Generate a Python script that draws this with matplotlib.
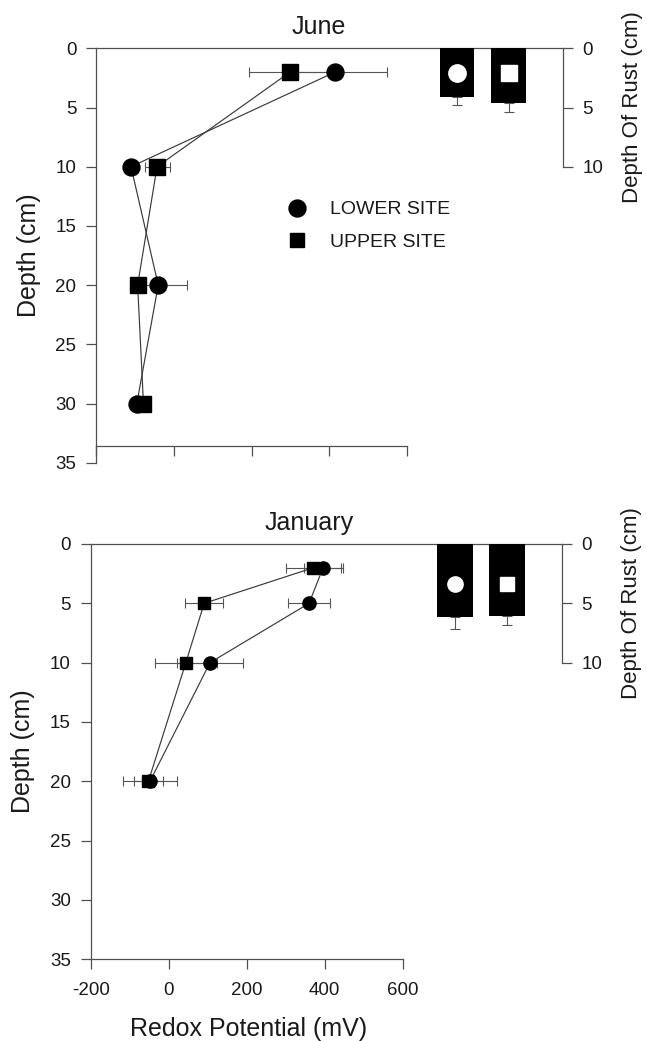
import matplotlib
matplotlib.use('Agg')
import matplotlib.pyplot as plt
from matplotlib.lines import Line2D

plt.rcParams['font.family'] = ['Liberation Sans', 'DejaVu Sans']
plt.rcParams['axes.unicode_minus'] = False

# ---------------- data ----------------
june_depth = [2, 10, 20, 30]
june_lower_mv = [415, -110, -40, -95]
june_lower_err = [134, 15, 73, 10]
june_upper_mv = [299, -43, -93, -78]
june_upper_err = [105, 32, 15, 10]

jan_depth = [2, 5, 10, 20]
jan_lower_mv = [396, 360, 106, -48]
jan_lower_err = [50, 54, 85, 70]
jan_upper_mv = [371, 91, 44, -52]
jan_upper_err = [70, 49, 79, 37]

site_labels = ['LOWER SITE', 'UPPER SITE']
june_rust = [4.14, 4.64]
june_rust_err = [0.67, 0.71]
jan_rust = [6.18, 6.07]
jan_rust_err = [1.01, 0.76]
june_rust_marker_depth = 2.1
jan_rust_marker_depth = 3.35

x_ticks = [-200, 0, 200, 400, 600]
x_tick_labels = ['-200', '0', '200', '400', '600']
depth_ticks = [0, 5, 10, 15, 20, 25, 30, 35]
rust_ticks = [0, 5, 10]

# ---------------- style ----------------
W, H = 647, 1041
SPINE = '#505050'
LINE = '#3a3a3a'
ERR = '#555555'
TICKLEN = 7.2

fig = plt.figure(figsize=(W / 100, H / 100), dpi=100)


def rect(left_px, right_px, top_px, bottom_px):
    return [left_px / W, 1 - bottom_px / H, (right_px - left_px) / W, (bottom_px - top_px) / H]


def panel(r, title, title_x, depth, low, low_err, up, up_err, rust, rust_err,
          rust_mdepth, xmax, xaxis_depth, show_xlabels, ms_data, ms_in, legend):
    ax = fig.add_axes(r)
    ax.set_xlim(-200, xmax)
    ax.set_ylim(35, 0)
    ax.patch.set_visible(False)
    ax.spines['right'].set_visible(False)
    for s in ['left', 'top', 'bottom']:
        ax.spines[s].set_color(SPINE)
        ax.spines[s].set_linewidth(0.9)
    ax.spines['bottom'].set_position(('data', xaxis_depth))
    ax.spines['bottom'].set_bounds(-200, 600)
    ax.set_xticks(x_ticks)
    if show_xlabels:
        ax.set_xticklabels(x_tick_labels)
    else:
        ax.set_xticklabels([])
    ax.set_yticks(depth_ticks)
    ax.set_yticklabels([str(t) for t in depth_ticks])
    ax.tick_params(axis='both', direction='out', length=TICKLEN, width=0.9,
                   color=SPINE, labelsize=13.5, labelcolor='#1a1a1a')
    ax.tick_params(axis='y', pad=7)
    ax.tick_params(axis='x', pad=9)

    # upper site (squares) then lower site (circles)
    ax.errorbar(up, depth, xerr=up_err, fmt='none', ecolor=ERR, elinewidth=0.8,
                capsize=3.6, capthick=0.8, zorder=2)
    ax.errorbar(low, depth, xerr=low_err, fmt='none', ecolor=ERR, elinewidth=0.8,
                capsize=3.6, capthick=0.8, zorder=2)
    ax.plot(up, depth, '-', color=LINE, lw=0.85, marker='s', ms=ms_data * 0.92,
            mfc='black', mec='black', zorder=3)
    ax.plot(low, depth, '-', color=LINE, lw=0.85, marker='o', ms=ms_data,
            mfc='black', mec='black', zorder=4)

    ax.set_title(title, fontsize=18, x=title_x, pad=10, color='#1a1a1a')
    ax.set_ylabel('Depth (cm)', fontsize=18, color='#1a1a1a')
    ax.yaxis.set_label_coords(-0.118, 0.5)
    if show_xlabels:
        ax.set_xlabel('Redox Potential (mV)', fontsize=18, color='#1a1a1a')
        ax.xaxis.set_label_coords(0.335, -0.138)

    if legend:
        handles = [Line2D([], [], ls='none', marker='o', ms=ms_data, mfc='black', mec='black'),
                   Line2D([], [], ls='none', marker='s', ms=ms_data * 0.88, mfc='black', mec='black')]
        ax.legend(handles, site_labels, loc='upper left', bbox_to_anchor=(0.41, 0.632),
                  frameon=False, fontsize=14, handlelength=1.0, handletextpad=1.2,
                  labelspacing=0.75, borderpad=0, borderaxespad=0, labelcolor='#1a1a1a')

    # rust depth bars on the right axis
    rax = fig.add_axes(r)
    rax.set_xlim(-7.0, 2.05)
    rax.set_ylim(35, 0)
    rax.patch.set_visible(False)
    for s in ['left', 'top', 'bottom']:
        rax.spines[s].set_visible(False)
    rax.spines['right'].set_color(SPINE)
    rax.spines['right'].set_linewidth(0.9)
    rax.spines['right'].set_bounds(0, 10)
    rax.yaxis.tick_right()
    rax.yaxis.set_label_position('right')
    rax.set_yticks(rust_ticks)
    rax.set_yticklabels([str(t) for t in rust_ticks])
    rax.set_xticks([])
    rax.tick_params(axis='y', direction='out', length=TICKLEN, width=0.9, color=SPINE,
                    labelsize=13.5, pad=7, labelcolor='#1a1a1a')
    xs = list(range(len(rust)))
    rax.errorbar(xs, rust, yerr=[[0] * len(rust), rust_err], fmt='none', ecolor=ERR,
                 elinewidth=0.8, capsize=3.6, capthick=0.8, zorder=1)
    rax.bar(xs, rust, width=0.675, color='black', zorder=2)
    rax.plot([xs[0]], [rust_mdepth], ls='none', marker='o', ms=ms_in, mfc='white',
             mec='white', zorder=3)
    rax.plot([xs[1]], [rust_mdepth], ls='none', marker='s', ms=ms_in * 0.88, mfc='white',
             mec='white', zorder=3)
    rax.set_ylabel('Depth Of Rust (cm)', fontsize=16, color='#1a1a1a')
    rax.yaxis.set_label_coords(1.126, 1 - 5 / 35)
    return ax, rax


panel(rect(96, 562.8, 48.3, 462.7), 'June', 0.4775,
      june_depth, june_lower_mv, june_lower_err, june_upper_mv, june_upper_err,
      june_rust, june_rust_err, june_rust_marker_depth,
      1000, 33.62, False, 12.2, 12.5, True)

panel(rect(90.7, 561.7, 544, 959.3), 'January', 0.4635,
      jan_depth, jan_lower_mv, jan_lower_err, jan_upper_mv, jan_upper_err,
      jan_rust, jan_rust_err, jan_rust_marker_depth,
      1008, 35, True, 9.5, 11, False)

fig.savefig('out.png', dpi=100)
